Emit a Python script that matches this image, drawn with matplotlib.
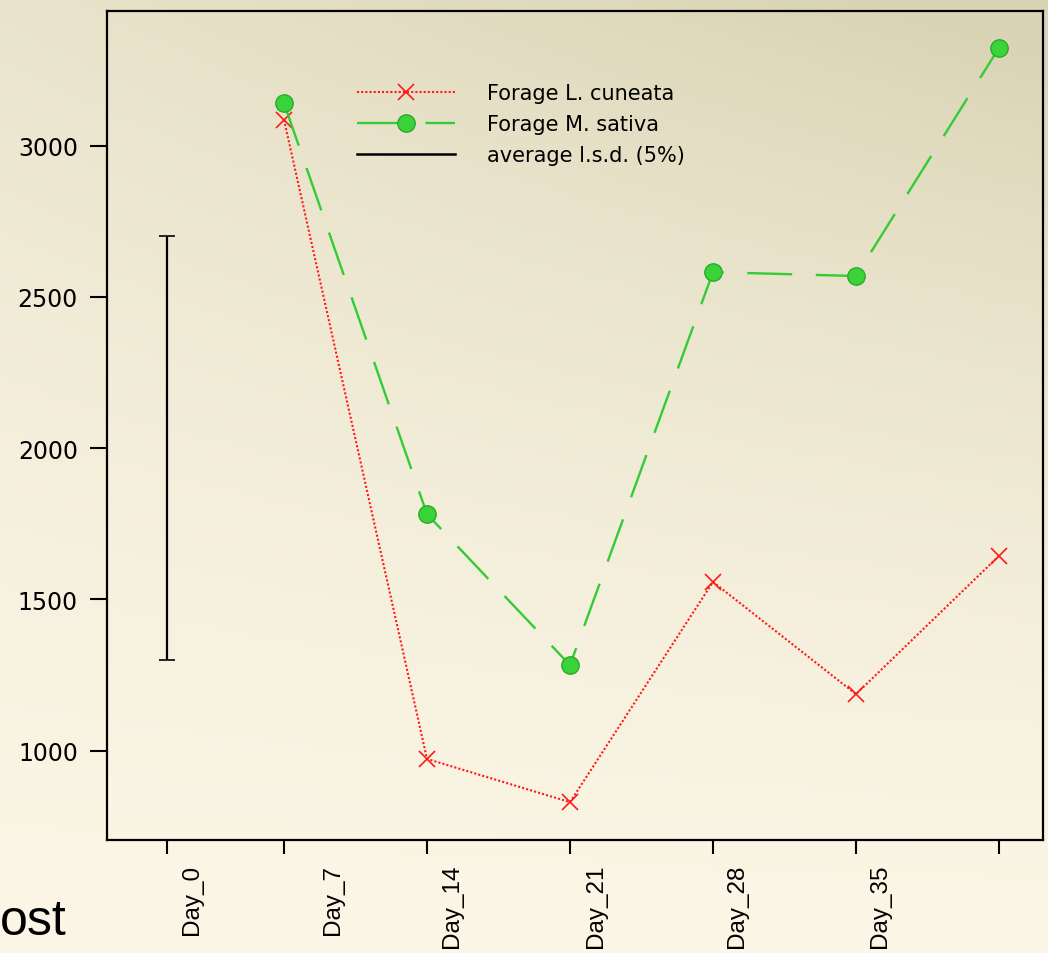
import numpy as np
import matplotlib
matplotlib.use("Agg")
import matplotlib.pyplot as plt
from matplotlib.lines import Line2D
from matplotlib.transforms import ScaledTranslation

plt.rcParams['font.family'] = ['DejaVu Sans']

# ---- data ----
tick_labels = ["Day_0", "Day_7", "Day_14", "Day_21", "Day_28", "Day_35", ""]
tick_pos = [0.18, 1, 2, 3, 4, 5, 6]
x_points = [1, 2, 3, 4, 5, 6]
l_cuneata = [3085, 973, 830, 1558, 1187, 1644]
m_sativa = [3140, 1782, 1283, 2582, 2569, 3323]
lsd_x = 0.18
lsd_center = 2000
lsd_value = 1400
y_ticks = [1000, 1500, 2000, 2500, 3000]

W, H, DPI = 1048, 954, 100
fig = plt.figure(figsize=(W / DPI, H / DPI), dpi=DPI)

# background gradient
bg = fig.add_axes([0, 0, 1, 1], zorder=-10)
yy, xx = np.mgrid[0:1:200j, 0:1:200j]
light = np.array([251, 246, 229]) / 255.0
dark = np.array([218, 212, 182]) / 255.0
d = np.clip((1 - yy) ** 1.6 * (0.55 + 0.45 * xx) + 0.08 * xx * (1 - yy), 0, 1)
img = light[None, None, :] * (1 - d[..., None]) + dark[None, None, :] * d[..., None]
bg.imshow(img, aspect='auto', extent=[0, 1, 0, 1], origin='upper')
bg.set_axis_off()

ax = fig.add_axes([107 / W, 1 - 841 / H, (1043 - 107) / W, (841 - 12) / H])
ax.patch.set_alpha(0)

red = '#ff1a1a'
green = '#33cc33'
ax.plot(x_points, l_cuneata, color=red, lw=1.5, linestyle=(0, (1, 1)),
        marker='x', markersize=11, markeredgewidth=1.2, zorder=3)
ax.plot(x_points, m_sativa, color=green, lw=1.7, linestyle=(0, (19, 10)),
        marker='o', markersize=12.5, markerfacecolor='#3ad33a',
        markeredgecolor='#2aaa2a', markeredgewidth=1.0, zorder=4)
ax.errorbar([lsd_x], [lsd_center], yerr=[lsd_value / 2], fmt='none',
            ecolor='black', elinewidth=1.6, capsize=6, capthick=1.2, zorder=2)

ax.set_xlim(-0.238, 6.308)
ax.set_ylim(705, 3445)
ax.set_yticks(y_ticks)
ax.set_yticklabels([str(v) for v in y_ticks], family='DejaVu Sans')
ax.set_xticks(tick_pos)
ax.set_xticklabels(tick_labels, rotation=90, va='top', ha='center',
                   family=['Liberation Sans', 'DejaVu Sans'])

for s in ax.spines.values():
    s.set_linewidth(1.6)
    s.set_color('black')
ax.tick_params(axis='y', direction='out', length=12, width=1.5, pad=9,
               labelsize=17)
ax.tick_params(axis='x', direction='out', length=10, width=1.5, pad=7,
               labelsize=17.5)

offsets = [0.25, 0.49, 0.25, 0.26, 0.24, 0.24, 0.24]
for lab, off in zip(ax.get_xticklabels(), offsets):
    lab.set_transform(lab.get_transform() + ScaledTranslation(off, 0, fig.dpi_scale_trans))

handles = [
    Line2D([], [], color=red, lw=1.5, linestyle=(0, (1, 1)), marker='x',
           markersize=11, markeredgewidth=1.2),
    Line2D([], [], color=green, lw=1.7, linestyle=(0, (19, 10)), marker='o',
           markersize=12.5, markerfacecolor='#3ad33a', markeredgecolor='#2aaa2a'),
    Line2D([], [], color='black', lw=1.8),
]
labels = ["Forage L. cuneata", "Forage M. sativa", "average l.s.d. (5%)"]
fig.legend(handles, labels, loc='upper left',
           bbox_to_anchor=(357 / W, 1 - 84 / H), frameon=False,
           fontsize=15, numpoints=1, handlelength=4.7, handletextpad=1.55,
           labelspacing=0.53, borderpad=0, borderaxespad=0)

fig.text(0.0, 1 - 935 / H, "ost", fontsize=36, ha='left', va='baseline',
         family='Liberation Sans')

fig.savefig("out.png", dpi=DPI)
